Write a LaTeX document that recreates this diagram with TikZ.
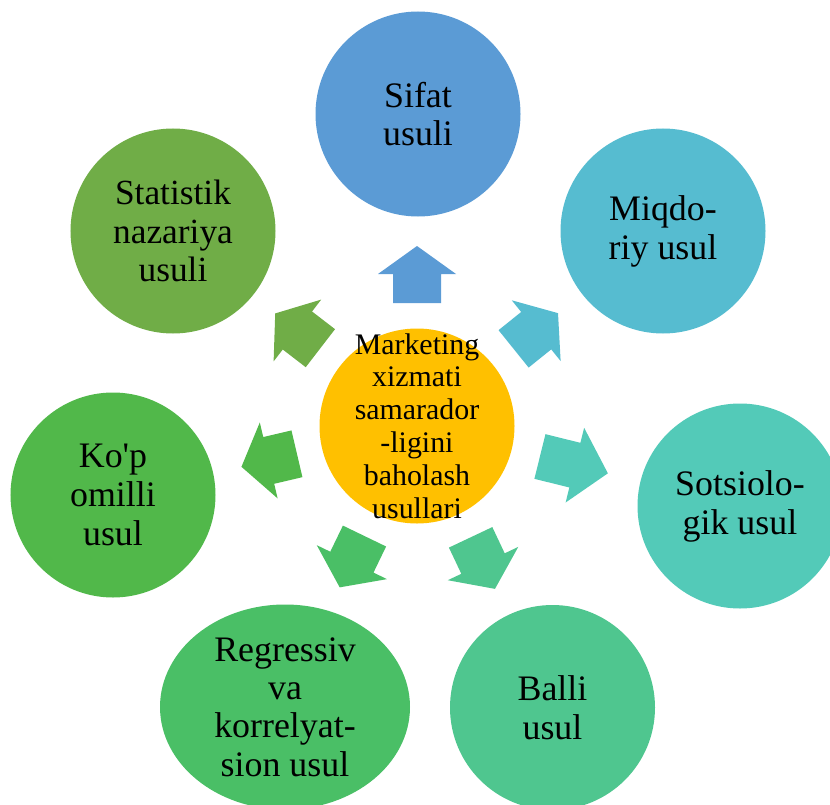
\documentclass[tikz,border=0pt]{standalone}
\usepackage{fontspec}
\setmainfont{Liberation Serif}
\usetikzlibrary{shapes.geometric}
\definecolor{cSifat}{HTML}{5B9BD5}
\definecolor{cMiq}{HTML}{56BCD0}
\definecolor{cSots}{HTML}{53CAB8}
\definecolor{cBalli}{HTML}{4FC68F}
\definecolor{cReg}{HTML}{4ABF66}
\definecolor{cKop}{HTML}{51B84A}
\definecolor{cStat}{HTML}{70AD47}
\definecolor{cCenter}{HTML}{FFC000}
\tikzset{
  bubble/.style={circle, inner sep=0pt, minimum size=205bp, align=center,
    font=\fontsize{36}{39}\selectfont, text=black},
  centerbubble/.style={circle, inner sep=0pt, minimum size=195bp, fill=cCenter},
  centertext/.style={inner sep=0pt, align=center, font=\fontsize{30}{33}\selectfont, text=black},
}
% block arrow: colour, x, y (middle), angle, length, head length, shaft half width, head half width
\newcommand\blockarr[8]{%
  \fill[#1, shift={(#2,#3)}, rotate=#4]
    ({-#5/2},{-#7}) -- ({#5/2-#6},{-#7}) -- ({#5/2-#6},{-#8}) -- ({#5/2},0)
    -- ({#5/2-#6},{#8}) -- ({#5/2-#6},{#7}) -- ({-#5/2},{#7}) -- cycle;}
\begin{document}
\begin{tikzpicture}[x=1bp, y=-1bp]
\useasboundingbox (0,0) rectangle (830,805);
% outer nodes
\node[bubble, fill=cSifat] (sifat) at (418,114) {Sifat\\usuli};
\node[bubble, fill=cMiq] (miq) at (663,231) {Miqdo-\\riy usul};
\node[bubble, fill=cSots] (sots) at (740,506) {Sotsiolo-\\gik usul};
\node[bubble, fill=cBalli] (balli) at (552.5,707.5) {Balli\\usul};
\node[ellipse, inner sep=0pt, minimum width=250bp, minimum height=205bp, align=center,
  font=\fontsize{36}{38.5}\selectfont, fill=cReg] (reg) at (285,707)
  {Regressiv\\va\\korrelyat-\\sion usul};
\node[bubble, fill=cKop] (kop) at (113,495) {Ko\textquotesingle p\\omilli\\usul};
\node[bubble, fill=cStat, font=\fontsize{35.5}{39}\selectfont] (stat) at (173,231) {Statistik\\nazariya\\usuli};
% arrows
\blockarr{cSifat}{417}{274.5}{90}{57}{28}{24}{39}
\blockarr{cMiq}{535.8}{331}{38.8}{57}{28}{24}{39}
\blockarr{cSots}{573.9}{464.9}{-13.9}{70}{34}{23}{38.5}
\blockarr{cBalli}{482.8}{563.1}{-64.7}{57}{28}{24}{39}
\blockarr{cReg}{352.1}{561.7}{-115.8}{57}{28}{24}{39}
\blockarr{cKop}{269.2}{460.3}{-166.8}{57}{28}{24}{39}
\blockarr{cStat}{297.8}{330.8}{142.4}{57}{28}{24}{39}
% center
\node[centerbubble] (c) at (417,426) {};
\node[centertext] (ct) at (c.center) {Marketing\\xizmati\\samarador\\-ligini\\baholash\\usullari};
\end{tikzpicture}
\end{document}
